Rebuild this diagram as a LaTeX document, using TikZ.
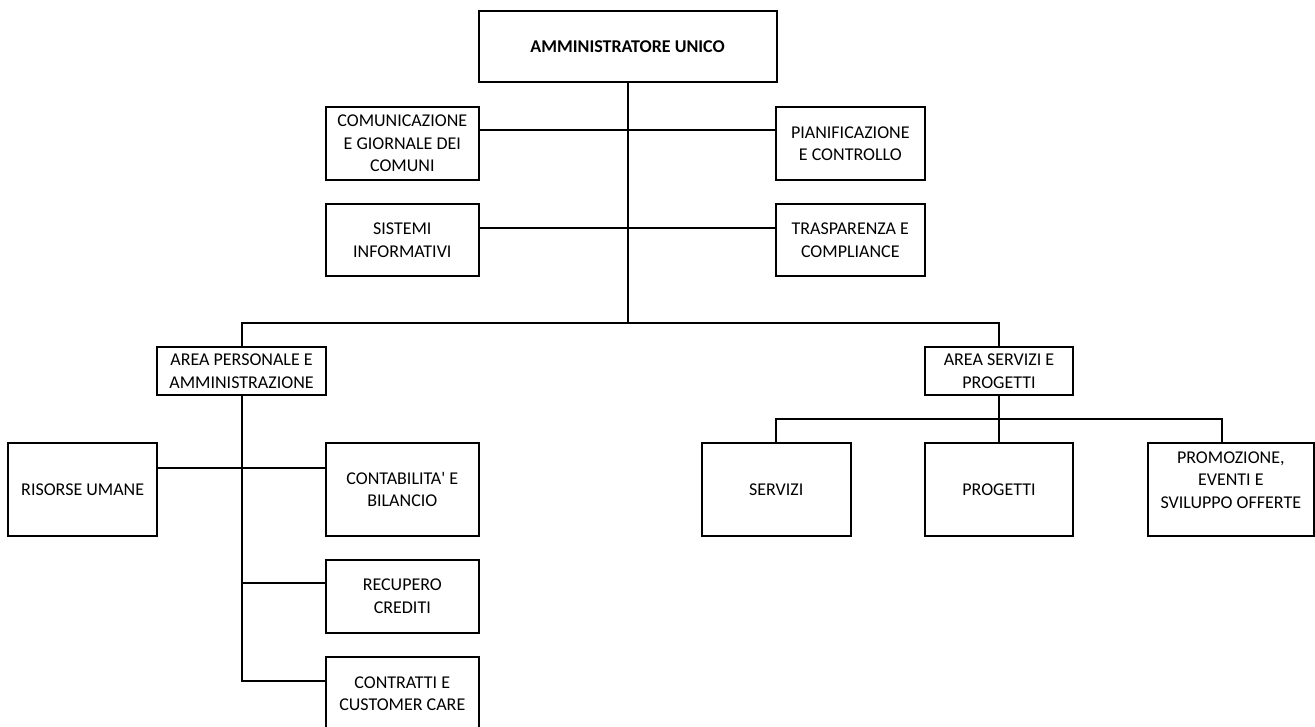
\documentclass[tikz,border=0pt]{standalone}
\usepackage{fontspec}
\setmainfont{Carlito}
\newfontfamily\cfont{Carlito}
\usetikzlibrary{calc}
\begin{document}
\begin{tikzpicture}[x=1pt,y=-1pt,
  box/.style={draw, line width=2pt, rectangle, inner sep=0pt, align=center,
    font=\cfont\fontsize{18}{22.5}\selectfont},
  lbl/.style={inner sep=0pt, align=center, font=\cfont\fontsize{18}{22.5}\selectfont},
  conn/.style={line width=2pt}]
\useasboundingbox (0,0) rectangle (1315,727);
\clip (0,0) rectangle (1315,727);
% nodes
\node[box, minimum width=298pt, minimum height=71pt, font=\cfont\fontsize{18}{22.5}\selectfont\bfseries] (top) at (627.6,46.5) {AMMINISTRATORE UNICO};
\node[box, minimum width=153.5pt, minimum height=73pt] (com) at (402.3,143.5) {COMUNICAZIONE\\E GIORNALE DEI\\COMUNI};
\node[box, minimum width=149.3pt, minimum height=73pt] (pia) at (850.3,143.5) {PIANIFICAZIONE\\E CONTROLLO};
\node[box, minimum width=153.5pt, minimum height=72pt] (sis) at (402.3,240) {SISTEMI\\INFORMATIVI};
\node[box, minimum width=149.3pt, minimum height=72pt] (tra) at (850.3,240) {TRASPARENZA E\\COMPLIANCE};
\node[box, minimum width=169.3pt, minimum height=48pt] (areaP) at (241.5,371) {AREA PERSONALE E\\AMMINISTRAZIONE};
\node[box, minimum width=148pt, minimum height=48pt] (areaS) at (999,371) {AREA SERVIZI E\\PROGETTI};
\node[box, minimum width=148.7pt, minimum height=93pt] (ris) at (82.7,489.5) {RISORSE UMANE};
\node[box, minimum width=153.3pt, minimum height=93pt] (con) at (402.3,489.5) {CONTABILITA' E\\BILANCIO};
\node[box, minimum width=153.3pt, minimum height=72.7pt] (rec) at (402.3,596.3) {RECUPERO\\CREDITI};
\node[box, minimum width=153.3pt, minimum height=73pt] (ctr) at (402.3,693.5) {CONTRATTI E\\CUSTOMER CARE};
\node[box, minimum width=149.3pt, minimum height=93pt] (ser) at (776.3,489.5) {SERVIZI};
\node[box, minimum width=148pt, minimum height=93pt] (pro) at (999,489.5) {PROGETTI};
\node[box, minimum width=166.3pt, minimum height=93pt] (prm) at (1230.8,489.5) {};
\node[lbl] (prmt) at (1230.8,480) {PROMOZIONE,\\EVENTI E\\SVILUPPO OFFERTE};
% junction coordinates
\coordinate (j0) at (627.6,322.7);
\coordinate (h1) at (627.6,130);
\coordinate (h2) at (627.6,228);
\coordinate (l1) at (241.5,468);
\coordinate (l2) at (241.5,583);
\coordinate (l3) at (241.5,681);
\coordinate (r1) at (999,418.5);
\coordinate (rp) at (1222.3,418.5);
% connectors
\draw[conn] (top.south) -- (j0);
\draw[conn] (com.east |- h1) -- (pia.west |- h1);
\draw[conn] (sis.east |- h2) -- (tra.west |- h2);
\draw[conn] (areaP.north) |- (j0) -| (areaS.north);
\draw[conn] (areaP.south) -- (l3) -- (ctr.west |- l3);
\draw[conn] (ris.east |- l1) -- (con.west |- l1);
\draw[conn] (l2) -- (rec.west |- l2);
\draw[conn] (areaS.south) -- (r1) -- (pro.north);
\draw[conn] (ser.north) |- (rp) -- (rp |- prm.north);
\end{tikzpicture}
\end{document}
